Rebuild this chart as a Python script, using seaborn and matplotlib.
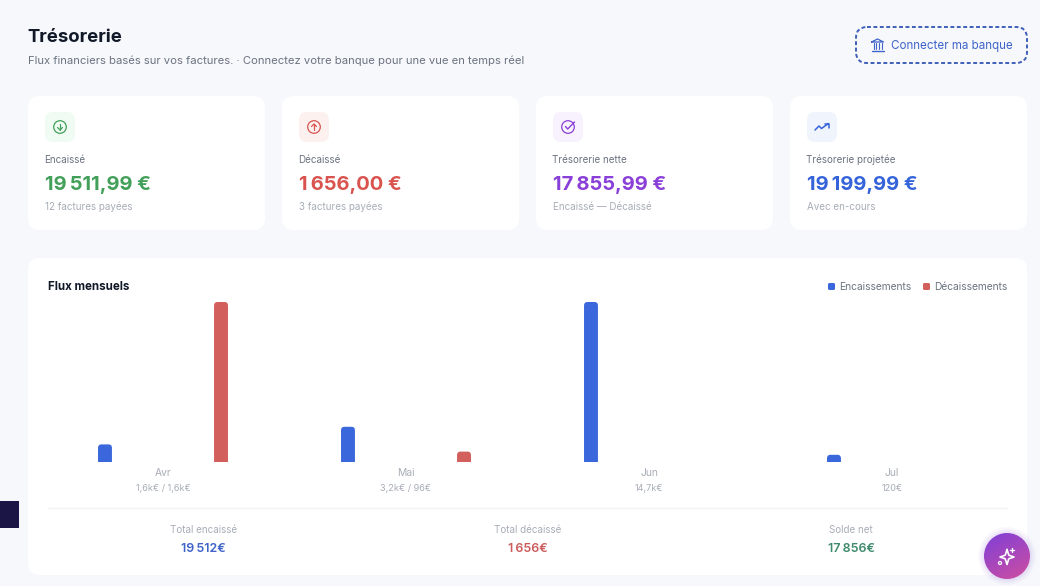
import numpy as np
import pandas as pd
import seaborn as sns
from matplotlib import pyplot as plt
from matplotlib.patches import FancyBboxPatch, Circle, Rectangle
from matplotlib.colors import LinearSegmentedColormap

# Données
mois = ['Avr', 'Mai', 'Jun', 'Jul']
sous_labels = ['1,6k€ / 1,6k€', '3,2k€ / 96€', '14,7k€', '120€']
# hauteur des barres en % du max de chaque série (chaque série a sa propre échelle)
encaissements = [11, 22, 100, 4.5]
decaissements = [100, 6.5, 0, 0]

cartes_labels = ['Encaissé', 'Décaissé', 'Trésorerie nette', 'Trésorerie projetée']
cartes_valeurs = ['19\u2009511,99 €', '1\u2009656,00 €', '17\u2009855,99 €', '19\u2009199,99 €']
cartes_notes = ['12 factures payées', '3 factures payées', 'Encaissé — Décaissé', 'Avec en-cours']
cartes_couleurs = ['#43a05a', '#d9534f', '#8a3fd8', '#3563d9']
cartes_fonds = ['#f0fbf3', '#fdf1f0', '#f7f2fe', '#eff4fd']

totaux_labels = ['Total encaissé', 'Total décaissé', 'Solde net']
totaux_valeurs = ['19\u2009512€', '1\u2009656€', '17\u2009856€']
totaux_couleurs = ['#3f63c9', '#cc5c5c', '#3e8a6c']

BLEU = '#3b67dc'
ROUGE = '#d25f5c'
FOND = '#f6f8fb'

sns.set_theme(style='white')
plt.rcParams['font.family'] = ['Inter', 'DejaVu Sans']

fig = plt.figure(figsize=(10.4, 5.86), dpi=100, facecolor=FOND)
W, H = 1040, 586

# calque en pixels pour les cartes et les textes
bg = fig.add_axes([0, 0, 1, 1], zorder=0)
bg.set_xlim(0, W)
bg.set_ylim(H, 0)
bg.axis('off')


def carte(ax, x0, y0, x1, y1, r, color, z=1, **kw):
    p = FancyBboxPatch((x0 + r, y0 + r), x1 - x0 - 2 * r, y1 - y0 - 2 * r,
                       boxstyle=f'round,pad={r},rounding_size={r}',
                       fc=color, ec=kw.pop('ec', 'none'), zorder=z, **kw)
    ax.add_patch(p)
    return p


bg.text(27.5, 42, 'Trésorerie', fontsize=13.4, fontweight='bold', color='#111827', va='baseline')
bg.text(28, 64, 'Flux financiers basés sur vos factures. · Connectez votre banque pour une vue en temps réel',
        fontsize=8.1, color='#6b7280', va='baseline')

# bouton banque
carte(bg, 856, 27, 1027, 63, 11, 'none', ec='#3f5fb8', lw=1.4, ls=(0, (2, 1.3)))
bg.text(891, 49.5, 'Connecter ma banque', fontsize=8.35, color='#3f63c9', va='baseline')
for xb in (873.5, 876.2, 878.8, 881.5):
    bg.plot([xb, xb], [43, 48.5], color='#3f63c9', lw=0.8, zorder=3)
bg.plot([871.5, 883.5], [50.5, 50.5], color='#3f63c9', lw=1.0, zorder=3)
bg.plot([871.5, 877.5, 883.5, 871.5], [42, 39, 42, 42], color='#3f63c9', lw=0.9, zorder=3)

# cartes du haut
cartes_x = [28, 282, 536, 790]
for i, x0 in enumerate(cartes_x):
    carte(bg, x0, 96, x0 + 237, 230, 12, 'white')
    carte(bg, x0 + 17, 112, x0 + 47, 142, 8, cartes_fonds[i], z=2)
    bg.text(x0 + 16.5, 163, cartes_labels[i], fontsize=7.1, color='#6b7280', va='baseline')
    bg.text(x0 + 17, 189.5, cartes_valeurs[i], fontsize=14.5, fontweight='bold', color=cartes_couleurs[i], va='baseline')
    bg.text(x0 + 17, 210, cartes_notes[i], fontsize=7.05, color='#a8adb7', va='baseline')

    cx, cy = x0 + 32, 127
    c = cartes_couleurs[i]
    if i < 3:
        bg.add_patch(Circle((cx, cy), 6.3, fc='none', ec=c, lw=0.9, zorder=3))
    if i == 0:
        bg.plot([cx, cx], [cy - 3, cy + 3], color=c, lw=0.9, zorder=4)
        bg.plot([cx - 2.5, cx, cx + 2.5], [cy + 0.5, cy + 3, cy + 0.5], color=c, lw=0.9, zorder=4)
    elif i == 1:
        bg.plot([cx, cx], [cy - 3, cy + 3], color=c, lw=0.9, zorder=4)
        bg.plot([cx - 2.5, cx, cx + 2.5], [cy - 0.5, cy - 3, cy - 0.5], color=c, lw=0.9, zorder=4)
    elif i == 2:
        bg.plot([cx - 2.5, cx - 0.3, cx + 6.5], [cy - 0.5, cy + 2, cy - 5], color=c, lw=1.0, zorder=4)
    else:
        bg.plot([cx - 7, cx - 3, cx - 0.5, cx + 6.5], [cy + 3, cy - 1, cy + 1.5, cy - 3.5], color=c, lw=1.1, zorder=4)
        bg.plot([cx + 2.5, cx + 6.5, cx + 6.5], [cy - 3.5, cy - 3.5, cy + 0.5], color=c, lw=1.1, zorder=4)

# panneau principal
carte(bg, 28, 258, 1027, 575, 12, 'white')
bg.text(48.5, 290, 'Flux mensuels', fontsize=8.3, fontweight='bold', color='#111827', va='baseline')

for xl, xt, col, lab in [(828, 839, BLEU, 'Encaissements'), (923, 934.5, ROUGE, 'Décaissements')]:
    carte(bg, xl, 283, xl + 7, 290, 1.5, col, z=3)
    bg.text(xt, 290, lab, fontsize=7.35, color='#6b7280', va='baseline')

bg.plot([48, 1007], [508, 508], color='#f2f3f6', lw=1, zorder=2)

for i, xc in enumerate([203.5, 527.5, 851]):
    bg.text(xc, 533, totaux_labels[i], fontsize=7.05, color='#a8adb7', ha='center', va='baseline')
    bg.text(xc, 551.5, totaux_valeurs[i], fontsize=9, fontweight=600, color=totaux_couleurs[i], ha='center', va='baseline')

# petit bloc sombre à gauche
bg.add_patch(Rectangle((0, 501), 19, 27, fc='#1a1545', ec='none', zorder=2))

# graphique : seaborn pour les barres
data = pd.DataFrame({
    'mois': mois * 2,
    'hauteur': encaissements + decaissements,
    'serie': ['Encaissements'] * len(mois) + ['Décaissements'] * len(mois),
})
ax = fig.add_axes([41.5 / W, 1 - 462 / H, 972 / W, 160 / H], zorder=2)
ax.patch.set_alpha(0)
sns.barplot(data=data, x='mois', y='hauteur', hue='serie', ax=ax, order=mois,
            palette={'Encaissements': BLEU, 'Décaissements': ROUGE},
            width=0.955, gap=0.88, saturation=1, legend=False)
ax.set_xlim(-0.5, 3.5)
ax.set_ylim(0, 100)
ax.set_xlabel('')
ax.set_ylabel('')
ax.set_yticks([])
sns.despine(ax=ax, left=True, bottom=True)
ax.tick_params(axis='x', length=0, pad=4.5, labelsize=7.4, labelcolor='#a8adb7')
for i, s in enumerate(sous_labels):
    ax.annotate(s, (i, 0), xytext=(0, -18.8), textcoords='offset points', ha='center', va='center',
                fontsize=6.6, color='#a8adb7', annotation_clip=False)

# arrondi du haut des barres : on repasse par les pixels
fig.canvas.draw()
for bar in list(ax.patches):
    if bar.get_height() <= 0:
        continue
    bb = bar.get_window_extent()
    col = bar.get_facecolor()
    bar.set_visible(False)
    x0, x1 = bb.x0, bb.x1
    y0, y1 = H - bb.y1, H - bb.y0
    r = 3.5
    carte(bg, x0, y0, x1, y1 + 4, r, col, z=3)
    bg.add_patch(Rectangle((x0 - 1, y1), x1 - x0 + 2, 5, fc='white', ec='none', zorder=3.5))

# bouton rond en dégradé
cmap = LinearSegmentedColormap.from_list('fab', ['#7f3fd8', '#cf4fa0'])
for r, a in [(29, 0.04), (27, 0.05), (25, 0.07)]:
    bg.add_patch(Circle((1007, 556), r, fc='#8a5be0', ec='none', alpha=a, zorder=4))
yy, xx = np.mgrid[0:1:100j, 0:1:100j]
im = bg.imshow(xx * 0.35 + yy * 0.65, cmap=cmap, extent=(984, 1030, 579, 533), origin='upper', zorder=5, aspect='auto')
im.set_clip_path(Circle((1007, 556), 23, transform=bg.transData))
bg.set_xlim(0, W)
bg.set_ylim(H, 0)
sx = 1007 + np.array([0, 1.8, 7, 1.8, 0, -1.8, -7, -1.8, 0])
sy = 557 + np.array([-7.5, -1.8, 0, 1.8, 7.5, 1.8, 0, -1.8, -7.5])
bg.plot(sx, sy, color='white', lw=1.2, zorder=6)
bg.plot([1012, 1012], [548, 552], color='white', lw=1, zorder=6)
bg.plot([1010, 1014], [550, 550], color='white', lw=1, zorder=6)
bg.add_patch(Circle((1000, 563), 1.5, fc='none', ec='white', lw=0.9, zorder=6))

fig.savefig('out.png', dpi=100, facecolor=FOND)
